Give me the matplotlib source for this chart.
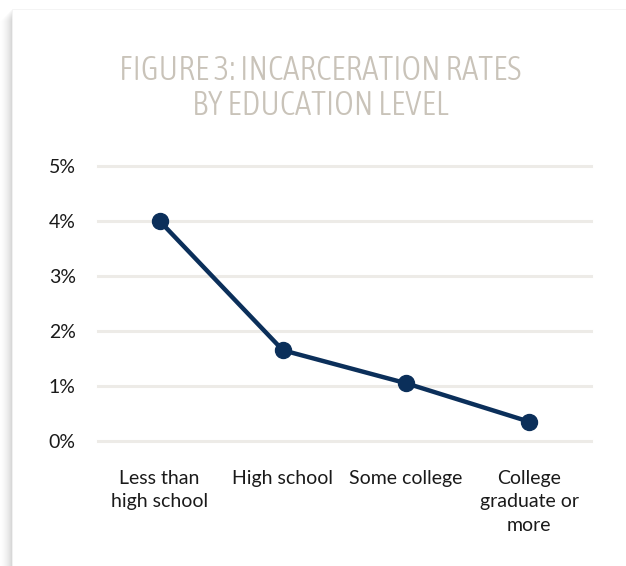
import matplotlib
matplotlib.use("Agg")
import matplotlib.pyplot as plt
from matplotlib.patches import Rectangle
from matplotlib import font_manager

categories = ["Less than\nhigh school", "High school", "Some college",
              "College\ngraduate or\nmore"]
rates = [4.0, 1.65, 1.05, 0.35]
yticks = [0, 1, 2, 3, 4, 5]
title = "FIGURE 3: INCARCERATION RATES\nBY EDUCATION LEVEL"


def find_face(*names):
    files = [f.fname for f in font_manager.fontManager.ttflist]
    for n in names:
        for fn in files:
            if fn.split("/")[-1].startswith(n):
                return fn
    return None


title_file = find_face("AsapCondensed-Light", "AsapCondensed-Regular",
                       "ArchivoNarrow", "DejaVuSansCondensed")

plt.rcParams["font.family"] = ["Lato", "DejaVu Sans"]

W, H = 626, 566
fig = plt.figure(figsize=(W / 100, H / 100), dpi=100)
fig.patch.set_facecolor("white")

# card with a soft shadow along the left edge
for i in range(12):
    off = 12 - i
    fig.patches.append(Rectangle(((12 - off) / W, 0), 1, (H - 9 - off) / H,
                                 transform=fig.transFigure, facecolor="black",
                                 alpha=0.004 + 0.0016 * i, edgecolor="none", zorder=-3))
fig.patches.append(Rectangle((12 / W, 0), 1, (H - 9) / H, transform=fig.transFigure,
                             facecolor="white", edgecolor="#f3f3f3", lw=0.6, zorder=-2))

ax = fig.add_axes([98 / W, 1 - 441 / H, (591 - 98) / W, (441 - 166) / H])
ax.set_facecolor("none")
x = list(range(len(categories)))
ax.plot(x, rates, color="#0b2f5a", lw=3.2, marker="o", ms=11.5, zorder=3,
        solid_capstyle="round")
ax.set_xlim(-0.5, len(categories) - 0.5)
ax.set_ylim(0, 5)
ax.set_yticks(yticks)
ax.set_yticklabels([f"{v}%" for v in yticks])
ax.set_xticks(x)
ax.set_xticklabels(categories, linespacing=1.45)
ax.grid(axis="y", color="#edebe7", lw=2.2, clip_on=False)
ax.set_axisbelow(True)
for s in ax.spines.values():
    s.set_visible(False)
ax.tick_params(length=0, labelsize=14, colors="#1a1a1a")
ax.tick_params(axis="y", pad=16)
ax.tick_params(axis="x", pad=21)

if title_file:
    fp = font_manager.FontProperties(fname=title_file, size=24)
else:
    fp = font_manager.FontProperties(family="DejaVu Sans", size=17)
fig.text(320 / W, 1 - 88 / H, title, ha="center", va="center",
         fontproperties=fp, color="#c9c3b9", linespacing=1.05)

fig.savefig("out.png", dpi=100)
